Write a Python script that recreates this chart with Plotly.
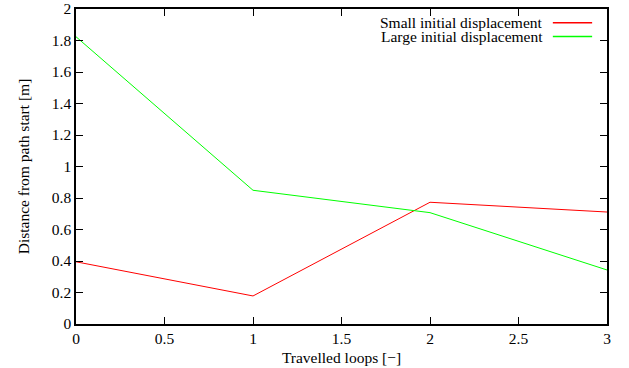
import plotly.graph_objects as go

loops = [0, 1, 2, 3]
small_disp = [0.395, 0.178, 0.773, 0.711]
large_disp = [1.824, 0.849, 0.707, 0.343]
series_names = ["Small initial displacement", "Large initial displacement"]
series_colors = ["#ff0000", "#00ff00"]
x_ticks = [0, 0.5, 1, 1.5, 2, 2.5, 3]
y_ticks = [0, 0.2, 0.4, 0.6, 0.8, 1, 1.2, 1.4, 1.6, 1.8, 2]

font = dict(family="Liberation Serif, Times New Roman, serif", size=15.5, color="black")
lfont = dict(family="Liberation Serif, Times New Roman, serif", size=15.5, color="black")

fig = go.Figure()
for vals, name, col in zip([small_disp, large_disp], series_names, series_colors):
    fig.add_trace(go.Scatter(x=loops, y=vals, mode="lines", name=name,
                             line=dict(color=col, width=1), showlegend=False))

axis_common = dict(showgrid=False, zeroline=False, showline=True, linecolor="black",
                   linewidth=1.5, mirror="ticks", ticks="inside", ticklen=7,
                   tickcolor="black", tickwidth=1, tickfont=font, automargin=False)

fig.update_xaxes(range=[0, 3], tickvals=x_ticks, ticktext=[f"{v:g}" for v in x_ticks],
                 title=dict(text="Travelled loops [\u2212]", font=lfont, standoff=6),
                 **axis_common)
fig.update_yaxes(range=[0, 2], tickvals=y_ticks, ticktext=[f"{v:g}" for v in y_ticks],
                 title=dict(text="Distance from path start [m]", font=lfont, standoff=18),
                 **axis_common)

# legend (gnuplot style: text right-aligned, sample line to the right)
legend_y = [0.956, 0.913]
for name, col, ly in zip(series_names, series_colors, legend_y):
    fig.add_annotation(xref="paper", yref="paper", x=0.881, y=ly, text=name,
                       showarrow=False, xanchor="right", yanchor="middle", font=lfont,
                       borderpad=0)
    fig.add_shape(type="line", xref="paper", yref="paper", x0=0.898, x1=0.972,
                  y0=ly, y1=ly, line=dict(color=col, width=1.5))

fig.update_layout(width=629, height=368, margin=dict(l=76, r=22, t=9, b=44),
                  plot_bgcolor="white", paper_bgcolor="white", font=font)

fig.write_html("out.html", config={"displayModeBar": False},
               post_script="document.body.style.margin='0';document.body.style.padding='0';")
